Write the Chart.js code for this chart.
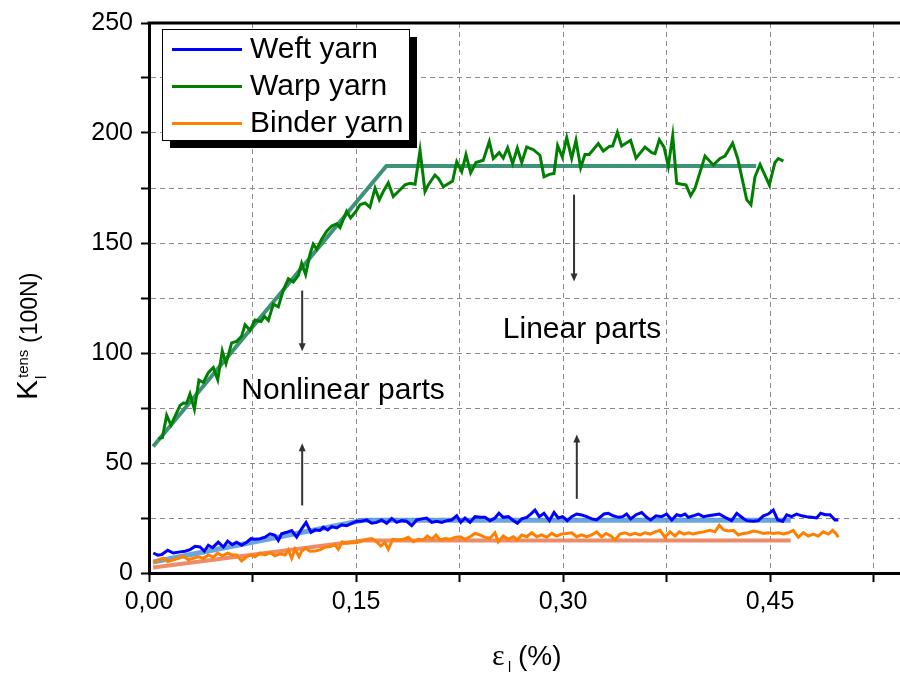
<!DOCTYPE html>
<html>
<head>
<meta charset="utf-8">
<script src="https://cdn.jsdelivr.net/npm/chart.js@4.4.0/dist/chart.umd.min.js"></script>
<style>
  html, body { margin: 0; padding: 0; background: #fff; }
  #wrap { width: 900px; height: 677px; }
</style>
</head>
<body>
<div id="wrap"><canvas id="chart" width="900" height="677"></canvas></div>
<script>
// values: strain (%) and K tens (100N)
const warpStrain = [0.0068, 0.0097, 0.0128, 0.0159, 0.0225, 0.0249, 0.0273, 0.0297, 0.0329, 0.0362, 0.0394, 0.043, 0.0466, 0.0498, 0.0531, 0.0558, 0.0599, 0.0635, 0.0671, 0.0696, 0.0732, 0.0768, 0.0812, 0.0836, 0.0865, 0.0901, 0.0937, 0.0973, 0.101, 0.1046, 0.1082, 0.1106, 0.1135, 0.1167, 0.119, 0.1215, 0.1251, 0.1288, 0.1324, 0.136, 0.1384, 0.1408, 0.1432, 0.1461, 0.15, 0.1529, 0.1565, 0.1601, 0.1638, 0.1669, 0.1698, 0.1734, 0.177, 0.1807, 0.1855, 0.1891, 0.1928, 0.1964, 0.2, 0.2024, 0.2072, 0.2097, 0.2133, 0.22, 0.223, 0.2266, 0.2297, 0.2331, 0.2369, 0.2422, 0.2466, 0.2495, 0.2538, 0.2567, 0.2599, 0.2635, 0.2669, 0.2701, 0.2737, 0.2785, 0.2833, 0.2862, 0.2901, 0.2935, 0.2961, 0.2995, 0.3027, 0.3063, 0.3094, 0.3128, 0.3159, 0.319, 0.3256, 0.3292, 0.3336, 0.336, 0.3394, 0.3425, 0.349, 0.3529, 0.3594, 0.3643, 0.3667, 0.3698, 0.3732, 0.3763, 0.3795, 0.3824, 0.386, 0.3891, 0.3925, 0.3957, 0.4029, 0.4089, 0.4138, 0.4174, 0.4229, 0.4266, 0.4331, 0.4362, 0.4391, 0.4428, 0.4495, 0.4536, 0.456, 0.4597];
const warpK = [61.2, 61.5, 71.7, 67.2, 76.2, 77.3, 77.2, 81.4, 74.4, 87.7, 86.6, 91.1, 93.4, 87.8, 100.9, 95.2, 104.6, 105.3, 107.6, 112.8, 110.3, 115, 114.3, 116.6, 114.8, 122.2, 121, 128.5, 133.8, 132.3, 135.2, 140.8, 135.7, 145, 149.5, 147.2, 151.7, 155.4, 157.7, 158.7, 157, 160.7, 164.4, 161.4, 164.4, 167.4, 168.2, 166.2, 174.9, 169.7, 173.4, 177.4, 171.1, 173.4, 176.4, 177.1, 176.7, 192.1, 173.4, 176.4, 180.9, 179.4, 175.6, 178.2, 186.9, 182.4, 190.2, 181.9, 186.6, 187.6, 196.1, 188.4, 191.1, 188.6, 193.3, 186.1, 193.1, 186.6, 193.6, 192.4, 189.9, 180.1, 181.2, 181.6, 194.3, 189.1, 197.9, 188.4, 196.7, 184.2, 190.2, 190.2, 195.2, 191.8, 193.9, 194.1, 200.3, 194.1, 196.7, 188.6, 193.6, 191.1, 190.6, 196.9, 193.6, 184.9, 198.8, 177.2, 176.7, 176.4, 171.5, 174.9, 189.5, 185.4, 188.4, 189.5, 195.4, 188.4, 169.7, 167.4, 180.1, 185.7, 176.4, 186.6, 188.4, 187.2];

const weftStrain = [0.0031, 0.0063, 0.0092, 0.0136, 0.0176, 0.0225, 0.0261, 0.0297, 0.0333, 0.037, 0.0401, 0.043, 0.0461, 0.0502, 0.0539, 0.057, 0.0604, 0.0635, 0.0671, 0.0708, 0.0739, 0.0768, 0.0804, 0.0841, 0.0877, 0.0913, 0.0937, 0.0961, 0.0998, 0.1034, 0.107, 0.1106, 0.1138, 0.1174, 0.1203, 0.1239, 0.1263, 0.1295, 0.1324, 0.136, 0.1396, 0.1432, 0.1469, 0.1505, 0.1541, 0.1577, 0.1614, 0.165, 0.1686, 0.1722, 0.1759, 0.1795, 0.1831, 0.1867, 0.1904, 0.194, 0.1976, 0.2012, 0.2049, 0.2085, 0.2121, 0.2157, 0.2193, 0.223, 0.2259, 0.229, 0.2326, 0.2362, 0.2399, 0.2435, 0.2471, 0.2507, 0.2536, 0.2567, 0.2604, 0.2635, 0.2669, 0.2701, 0.2737, 0.2766, 0.2797, 0.2828, 0.2862, 0.2901, 0.2935, 0.2966, 0.2998, 0.3031, 0.3063, 0.3099, 0.3135, 0.3172, 0.3208, 0.3244, 0.3297, 0.3328, 0.3364, 0.3401, 0.3432, 0.3461, 0.349, 0.3529, 0.357, 0.3606, 0.3635, 0.3674, 0.3715, 0.3751, 0.3788, 0.3824, 0.3853, 0.3884, 0.3908, 0.3944, 0.3981, 0.4017, 0.4053, 0.4089, 0.4133, 0.4174, 0.4222, 0.4259, 0.4307, 0.4331, 0.4379, 0.4415, 0.4452, 0.4488, 0.4524, 0.4556, 0.4592, 0.4621, 0.4657, 0.4693, 0.473, 0.4766, 0.4802, 0.4838, 0.4867, 0.4899, 0.4935, 0.4971, 0.4995];
const weftK = [9.1, 8.1, 8.4, 10.3, 9.1, 9.6, 9.9, 10.6, 12.1, 11.8, 9.9, 12.6, 11.5, 14, 11.8, 14.5, 12.9, 14, 12.6, 14, 15.6, 15.3, 15.6, 16.3, 17.8, 17.1, 14.8, 17.8, 18.5, 19.3, 16.3, 20.1, 23, 18.5, 19.6, 19.3, 20.8, 19.6, 21.1, 20.5, 21.9, 21.5, 22.6, 23.5, 23.5, 24.1, 22.6, 23, 24.1, 22.6, 24.8, 23, 23.8, 23.5, 21.5, 24.1, 24.6, 25, 23, 23.5, 23, 23.8, 24.1, 26, 23, 25, 23, 25.6, 25.3, 25.3, 23.8, 25, 27.2, 25.3, 25.6, 24.1, 22.6, 24.6, 25.3, 26.8, 28.6, 25.6, 27.1, 23.8, 27.5, 25, 25.6, 23.8, 25.6, 26.8, 26.4, 25.6, 24.6, 24.1, 26.8, 27.1, 26, 25.3, 25.6, 26.8, 24.6, 26.5, 27.5, 25.3, 24.1, 26, 25.6, 26.8, 24.1, 26.5, 26, 26.8, 25.3, 26, 26.8, 25.6, 26, 26.4, 26.8, 25.3, 23.8, 27.1, 24.8, 23.8, 23.5, 23.8, 26, 26.8, 28.6, 24.1, 23.5, 26.4, 25.6, 26.8, 26, 25.6, 25.3, 25, 27.2, 26.5, 26.5, 24.1, 24.1];

const binderStrain = [0.0031, 0.0068, 0.0104, 0.0136, 0.0176, 0.0213, 0.0249, 0.0285, 0.0321, 0.0357, 0.0394, 0.043, 0.0466, 0.0498, 0.0531, 0.057, 0.0604, 0.0635, 0.0671, 0.0708, 0.0739, 0.0768, 0.0804, 0.0841, 0.0877, 0.0913, 0.0949, 0.0986, 0.101, 0.1034, 0.1058, 0.1087, 0.1106, 0.1135, 0.1167, 0.1203, 0.1239, 0.1275, 0.1312, 0.1348, 0.1372, 0.1401, 0.1432, 0.1469, 0.1505, 0.1541, 0.1577, 0.1614, 0.165, 0.1679, 0.171, 0.1734, 0.1766, 0.1807, 0.1843, 0.1879, 0.1915, 0.1952, 0.1988, 0.2017, 0.2049, 0.208, 0.2109, 0.2145, 0.2181, 0.2217, 0.2254, 0.229, 0.2326, 0.2362, 0.2399, 0.2435, 0.2471, 0.2507, 0.2531, 0.2567, 0.2604, 0.264, 0.2669, 0.2701, 0.2737, 0.2773, 0.281, 0.2846, 0.2882, 0.2918, 0.2954, 0.299, 0.3027, 0.3063, 0.3099, 0.3135, 0.3172, 0.3208, 0.3244, 0.328, 0.3312, 0.3348, 0.3377, 0.3413, 0.3449, 0.3486, 0.3522, 0.3558, 0.3594, 0.363, 0.3667, 0.3703, 0.3739, 0.3775, 0.3812, 0.3843, 0.3877, 0.3908, 0.3944, 0.3981, 0.4017, 0.4065, 0.4101, 0.4133, 0.4162, 0.4198, 0.4235, 0.4271, 0.4307, 0.4343, 0.4379, 0.4415, 0.4452, 0.4488, 0.4524, 0.456, 0.4597, 0.4633, 0.4669, 0.4705, 0.4742, 0.4778, 0.4814, 0.485, 0.4886, 0.4923, 0.4954, 0.4978, 0.4995];
const binderK = [4.5, 6, 6.7, 5.2, 6, 6.7, 7.7, 6, 6.7, 7.4, 6.7, 8.2, 7.2, 9, 7.8, 9, 8.2, 8.2, 5.5, 7.4, 8.2, 7.4, 9, 8.2, 9.3, 7.8, 8.7, 8.2, 10.5, 6.7, 10.8, 7.4, 9.9, 11.2, 9.9, 10, 10.5, 11.7, 12, 12.8, 10.8, 14.2, 13.5, 13.7, 13.8, 14.6, 15.3, 15.7, 14.2, 12.3, 13.8, 10.8, 15.3, 15, 15.3, 16.2, 14.2, 15.3, 15, 16.8, 15.3, 17.3, 15, 15.7, 15.3, 16.2, 16.5, 15.3, 16.5, 18, 17.3, 16.2, 15.8, 18.3, 14.2, 16.8, 15.3, 16.5, 15, 17.3, 16.5, 18.3, 16.5, 17.3, 16.2, 18, 16.8, 17.7, 18, 18.3, 16.5, 17.3, 16.5, 17.3, 18.7, 16.5, 18, 16.8, 15, 17.7, 18.3, 17.3, 18, 17.3, 18.3, 17.7, 18.7, 19.4, 16.2, 18.7, 16.8, 18.7, 17.7, 18.3, 17.7, 18.3, 18.7, 19.4, 18.7, 21.7, 19.7, 19.1, 19.4, 17.3, 18, 18.3, 19.1, 18.7, 18, 18.3, 18, 18.3, 17.7, 18.3, 19.4, 16.2, 18.3, 16.8, 17.7, 16.8, 18.7, 17.7, 19.4, 18, 16.2];

// bilinear fits (rising part, then plateau)
const warpFitStrain = [0.003, 0.172, 0.44];
const warpFitK = [57.5, 185, 185];
const weftFitStrain = [0.003, 0.155, 0.465];
const weftFitK = [5, 24, 24];
const binderFitStrain = [0.003, 0.155, 0.465];
const binderFitK = [2.5, 14.8, 14.8];

// axis ticks
const strainStep = 0.075;
const kStep = 25;

// annotations (data coordinates)
const arrowStrain = [0.111, 0.111, 0.308, 0.31];
const arrowFromK = [128.4, 30.7, 172, 33.7];
const arrowToK = [100.8, 59, 132.5, 62.9];
const noteText = ['Nonlinear parts', 'Linear parts'];
const noteStrain = [0.1406, 0.3138];
const noteK = [83, 110.4];

const toPoints = (xs, ys) => xs.map((x, i) => ({ x: x, y: ys[i] }));
const FONT = '"Liberation Sans", Arial, sans-serif';

const decorPlugin = {
    id: 'decor',
    afterDraw(chart) {
        const { ctx, chartArea } = chart;
        const xs = chart.scales.x, ys = chart.scales.y;
        ctx.save();

        // top frame line
        ctx.strokeStyle = '#000';
        ctx.lineWidth = 3;
        ctx.beginPath();
        ctx.moveTo(chartArea.left - 1.5, chartArea.top);
        ctx.lineTo(chartArea.right, chartArea.top);
        ctx.stroke();

        // arrows
        ctx.strokeStyle = '#333';
        ctx.fillStyle = '#333';
        ctx.lineWidth = 2;
        arrowStrain.forEach((s, i) => {
            const px = xs.getPixelForValue(s);
            const y1 = ys.getPixelForValue(arrowFromK[i]);
            const y2 = ys.getPixelForValue(arrowToK[i]);
            const dir = y2 > y1 ? 1 : -1;
            ctx.beginPath();
            ctx.moveTo(px, y1);
            ctx.lineTo(px, y2 - dir * 5);
            ctx.stroke();
            ctx.beginPath();
            ctx.moveTo(px, y2);
            ctx.lineTo(px - 3.5, y2 - dir * 8);
            ctx.lineTo(px + 3.5, y2 - dir * 8);
            ctx.closePath();
            ctx.fill();
        });

        // notes
        ctx.fillStyle = '#000';
        ctx.font = '30px ' + FONT;
        ctx.textAlign = 'center';
        ctx.textBaseline = 'middle';
        noteText.forEach((t, i) => {
            ctx.fillText(t, xs.getPixelForValue(noteStrain[i]), ys.getPixelForValue(noteK[i]));
        });

        // legend box with shadow
        const lx = 162, ly = 29, lw = 247, lh = 111;
        ctx.fillStyle = '#000';
        ctx.fillRect(lx + 8, ly + 8, lw, lh);
        ctx.fillStyle = '#fff';
        ctx.fillRect(lx, ly, lw, lh);
        ctx.strokeStyle = '#000';
        ctx.lineWidth = 1;
        ctx.strokeRect(lx + 0.5, ly + 0.5, lw, lh);
        ctx.textAlign = 'left';
        ctx.font = '30px ' + FONT;
        chart.data.datasets.slice(0, 3).forEach((ds, i) => {
            const cy = 49.5 + i * 37;
            ctx.strokeStyle = ds.borderColor;
            ctx.lineWidth = 3;
            ctx.beginPath();
            ctx.moveTo(172, cy);
            ctx.lineTo(242, cy);
            ctx.stroke();
            ctx.fillStyle = '#000';
            ctx.fillText(ds.label, 250, cy);
        });

        // y axis title: K_l^tens (100N)
        ctx.save();
        ctx.translate(37, 400);
        ctx.rotate(-Math.PI / 2);
        ctx.textBaseline = 'alphabetic';
        ctx.textAlign = 'left';
        ctx.fillStyle = '#000';
        ctx.font = '30px ' + FONT;
        ctx.fillText('K', 0, 0);
        ctx.font = '15px ' + FONT;
        ctx.fillText('tens', 22, -9);
        ctx.fillText('l', 21, 9);
        ctx.font = '23px ' + FONT;
        ctx.fillText('(100N)', 57, 0);
        ctx.restore();

        // x axis title: eps_l (%)
        ctx.textBaseline = 'alphabetic';
        ctx.textAlign = 'left';
        ctx.font = '30px "Liberation Serif", "Times New Roman", serif';
        ctx.fillText('\u03b5', 492, 665);
        ctx.font = '14px ' + FONT;
        ctx.fillText('l', 508, 672);
        ctx.font = '28px ' + FONT;
        ctx.fillText('(%)', 518, 665);

        ctx.restore();
    }
};

const ctx = document.getElementById('chart').getContext('2d');
const chart = new Chart(ctx, {
    type: 'line',
    data: {
        datasets: [
            { label: 'Weft yarn', data: toPoints(weftStrain, weftK), borderColor: '#0000ff', borderWidth: 3 },
            { label: 'Warp yarn', data: toPoints(warpStrain, warpK), borderColor: '#008000', borderWidth: 3 },
            { label: 'Binder yarn', data: toPoints(binderStrain, binderK), borderColor: '#ff8000', borderWidth: 3 },
            { label: 'Weft fit', data: toPoints(weftFitStrain, weftFitK), borderColor: 'rgba(80,150,215,0.85)', borderWidth: 5 },
            { label: 'Warp fit', data: toPoints(warpFitStrain, warpFitK), borderColor: 'rgba(40,135,105,0.9)', borderWidth: 4 },
            { label: 'Binder fit', data: toPoints(binderFitStrain, binderFitK), borderColor: 'rgba(235,120,80,0.85)', borderWidth: 4 }
        ]
    },
    options: {
        responsive: false,
        animation: false,
        devicePixelRatio: 1,
        layout: { padding: { top: 16, right: 0, bottom: 0, left: 0 } },
        elements: {
            point: { radius: 0, hoverRadius: 0 },
            line: { tension: 0, fill: false }
        },
        plugins: {
            legend: { display: false },
            tooltip: { enabled: false }
        },
        scales: {
            x: {
                type: 'linear',
                min: 0,
                max: 0.5442,
                afterFit: (scale) => { scale.height = 104; },
                ticks: {
                    stepSize: strainStep,
                    includeBounds: false,
                    autoSkip: false,
                    maxRotation: 0,
                    padding: 5,
                    color: '#000',
                    font: { family: FONT, size: 25 },
                    callback: (v) => Math.round(v / strainStep) % 2 === 0 ? v.toFixed(2).replace('.', ',') : ''
                },
                grid: { color: '#8a8a8a', lineWidth: 1, tickLength: 9, tickColor: '#000', tickWidth: 2 },
                border: { color: '#000', width: 3, dash: [5, 4] }
            },
            y: {
                min: 0,
                max: 250,
                afterFit: (scale) => { scale.width = 149; },
                ticks: {
                    stepSize: kStep,
                    autoSkip: false,
                    padding: 8,
                    color: '#000',
                    font: { family: FONT, size: 25 },
                    callback: (v) => v % 50 === 0 ? String(v) : ''
                },
                grid: { color: '#8a8a8a', lineWidth: 1, tickLength: 8, tickColor: '#000', tickWidth: 2 },
                border: { color: '#000', width: 3, dash: [5, 4] }
            }
        }
    },
    plugins: [decorPlugin]
});
</script>
</body>
</html>
